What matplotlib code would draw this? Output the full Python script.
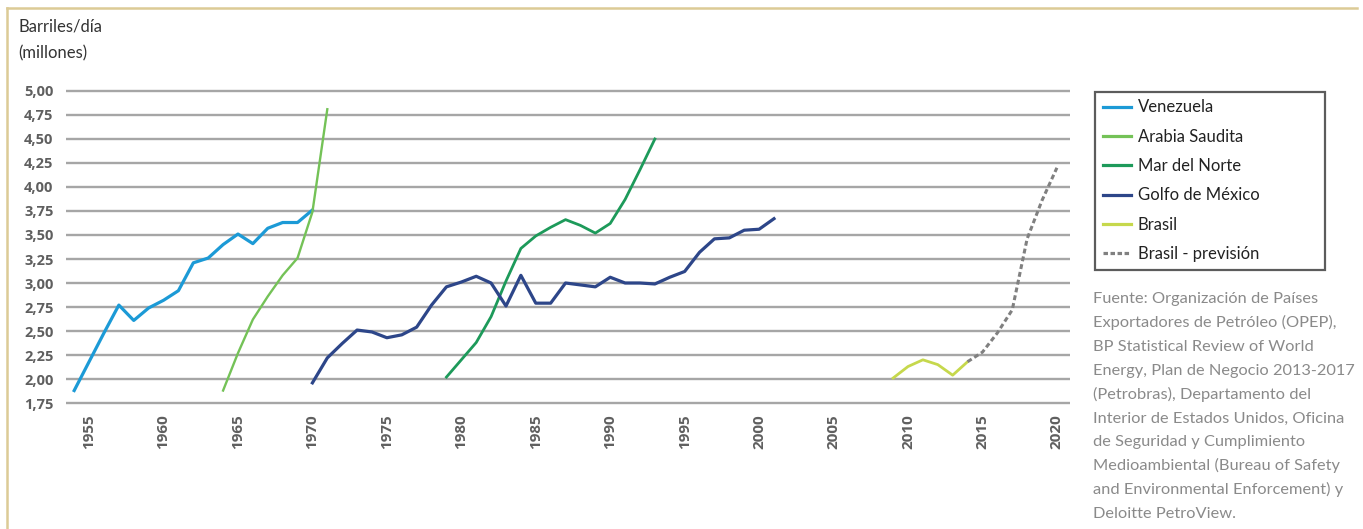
import numpy as np
import matplotlib
matplotlib.use("Agg")
import matplotlib.pyplot as plt
from matplotlib.lines import Line2D

# ---- data ----
years_ven = list(range(1954, 1971))
venezuela = [1.88, 2.18, 2.48, 2.77, 2.61, 2.74, 2.82, 2.92, 3.21, 3.26, 3.40,
             3.51, 3.41, 3.57, 3.63, 3.63, 3.76]

years_sau = list(range(1964, 1972))
arabia = [1.88, 2.27, 2.62, 2.86, 3.08, 3.26, 3.74, 4.81]

years_mdn = list(range(1979, 1994))
mar_norte = [2.02, 2.20, 2.38, 2.65, 3.02, 3.36, 3.49, 3.58, 3.66, 3.60, 3.52,
             3.62, 3.87, 4.18, 4.50]

years_gom = list(range(1970, 2002))
golfo = [1.96, 2.22, 2.37, 2.51, 2.49, 2.43, 2.46, 2.54, 2.77, 2.96, 3.01, 3.07,
         3.00, 2.76, 3.08, 2.79, 2.79, 3.00, 2.98, 2.96, 3.06, 3.00, 3.00, 2.99,
         3.06, 3.12, 3.32, 3.46, 3.47, 3.55, 3.56, 3.67]

years_bra = list(range(2009, 2015))
brasil = [2.01, 2.13, 2.20, 2.15, 2.04, 2.18]

years_prev = list(range(2014, 2021))
brasil_prev = [2.18, 2.28, 2.48, 2.72, 3.46, 3.86, 4.20]

x_ticks = list(range(1955, 2021, 5))
y_ticks = [1.75, 2.00, 2.25, 2.50, 2.75, 3.00, 3.25, 3.50, 3.75, 4.00, 4.25, 4.50, 4.75, 5.00]

labels = ["Venezuela", "Arabia Saudita", "Mar del Norte", "Golfo de México",
          "Brasil", "Brasil - previsión"]
colors = ["#1c9ad6", "#74c257", "#1d9a5a", "#2d4689", "#c6d84c", "#808080"]

source_lines = ["Fuente: Organización de Países",
                "Exportadores de Petróleo (OPEP),",
                "BP Statistical Review of World",
                "Energy, Plan de Negocio 2013-2017",
                "(Petrobras), Departamento del",
                "Interior de Estados Unidos, Oficina",
                "de Seguridad y Cumplimiento",
                "Medioambiental (Bureau of Safety",
                "and Environmental Enforcement) y",
                "Deloitte PetroView."]

# ---- figure ----
W, H = 1363, 529
fig = plt.figure(figsize=(W / 100, H / 100), dpi=100)
fig.patch.set_facecolor("white")

ax_left, ax_right = 66, 1070
ax_top, ax_bot = 88.1, 405.9
ax = fig.add_axes([ax_left / W, 1 - ax_bot / H, (ax_right - ax_left) / W, (ax_bot - ax_top) / H])
ax.set_xlim(1953.45, 2020.88)
ax.set_ylim(1.72, 5.03)

ax.plot(years_ven, venezuela, color=colors[0], lw=2.3, solid_joinstyle="round", zorder=3)
ax.plot(years_sau, arabia, color=colors[1], lw=1.7, solid_joinstyle="round", zorder=3)
ax.plot(years_mdn, mar_norte, color=colors[2], lw=2.0, solid_joinstyle="round", zorder=3)
ax.plot(years_gom, golfo, color=colors[3], lw=2.3, solid_joinstyle="round", zorder=3)
ax.plot(years_bra, brasil, color=colors[4], lw=2.0, solid_joinstyle="round", zorder=3)
ax.plot(years_prev, brasil_prev, color=colors[5], lw=2.2, dashes=(1.6, 1.0), zorder=3)

ax.set_yticks(y_ticks)
ax.set_yticklabels([f"{v:.2f}".replace(".", ",") for v in y_ticks],
                   fontfamily="Open Sans", fontweight="bold", fontsize=10.5, color="#5f5f5f")
ax.set_xticks(x_ticks)
ax.set_xticklabels([str(y) for y in x_ticks], rotation=90,
                   fontfamily="Open Sans", fontweight="bold", fontsize=11, color="#5f5f5f")
ax.tick_params(axis="both", length=0)
ax.tick_params(axis="y", pad=9)
ax.tick_params(axis="x", pad=6)
ax.yaxis.grid(True, color="#a6a6a6", lw=1.7)
ax.xaxis.grid(False)
ax.set_axisbelow(True)
for s in ax.spines.values():
    s.set_visible(False)

# ---- titles / text ----
fig.text(18 / W, 1 - 19 / H, "Barriles/día\n(millones)", ha="left", va="top",
         fontfamily="Lato", fontsize=12, color="#333333", linespacing=1.75)

handles = [Line2D([], [], color=colors[i], lw=2.3) for i in range(5)]
handles.append(Line2D([], [], color=colors[5], lw=2.3, dashes=(1.4, 0.8)))
leg = fig.legend(handles, labels, loc="upper left",
                 bbox_to_anchor=(1095 / W, 1 - 270 / H, 230 / W, 178 / H),
                 mode="expand", frameon=True, fancybox=False, borderaxespad=0,
                 prop={"family": "Lato", "size": 12}, labelspacing=0.8,
                 handlelength=1.7, handletextpad=0.4, borderpad=0.45)
leg.get_frame().set_edgecolor("#333333")
leg.get_frame().set_linewidth(1.6)
for t in leg.get_texts():
    t.set_color("#222222")

for i, line in enumerate(source_lines):
    fig.text(1093 / W, 1 - (303 + 23.9 * i) / H, line, ha="left", va="baseline",
             fontfamily="Lato", fontsize=11.8, color="#8a8a8a")

# ---- outer frame ----
fig.add_artist(Line2D([7 / W, 1357 / W], [1 - 8 / H, 1 - 8 / H], color="#dccb96", lw=1.8,
                      transform=fig.transFigure))
fig.add_artist(Line2D([7 / W, 7 / W], [1 - 8 / H, 0], color="#dccb96", lw=1.8,
                      transform=fig.transFigure))

fig.savefig("out.png", dpi=100)
